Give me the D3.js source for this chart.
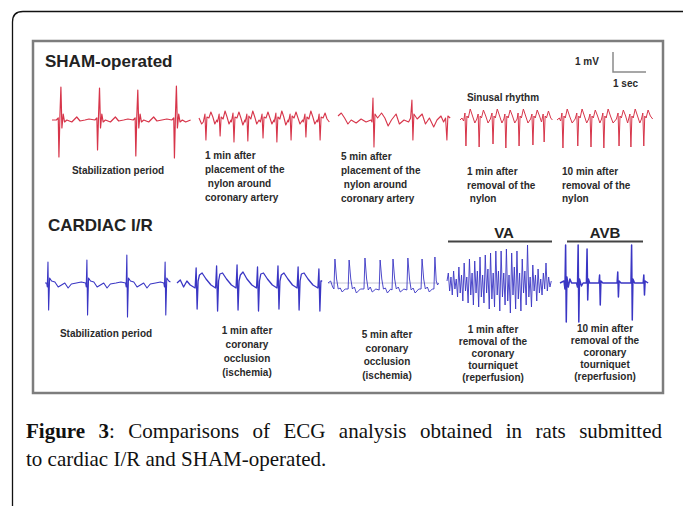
<!DOCTYPE html>
<html>
<head>
<meta charset="utf-8">
<script src="https://cdn.jsdelivr.net/npm/d3@7"></script>
<style>
  body { margin: 0; background: #fff; }
  svg { display: block; }
</style>
</head>
<body>
<svg id="fig"></svg>
<script>
// ECG traces: [time in s, voltage in mV]
var shamStab = [[0,0],[0.13,0],[0.19,0.1],[0.21,-1.85],[0.24,0.2],[0.27,1.65],[0.30,-0.4],[0.34,0.3],[0.38,-0.1],[0.45,0],[0.6,-0.1],[0.75,0.15],[0.85,-0.05],[1.0,0],[1.12,0.05],
  [1.30,0],[1.36,0.1],[1.38,-1.5],[1.41,0.2],[1.44,1.6],[1.47,-0.4],[1.51,0.3],[1.55,-0.1],[1.62,0],[1.77,-0.1],[1.92,0.15],[2.02,-0.05],[2.17,0],[2.3,0.05],
  [2.46,0],[2.52,0.1],[2.54,-1.8],[2.57,0.2],[2.60,1.5],[2.63,-0.4],[2.67,0.3],[2.71,-0.1],[2.78,0],[2.93,-0.1],[3.08,0.15],[3.18,-0.05],[3.33,0],[3.48,0.05],
  [3.63,0],[3.69,0.1],[3.71,-1.9],[3.74,0.2],[3.77,1.7],[3.80,-0.4],[3.84,0.3],[3.88,-0.1],[3.95,0],[4.05,-0.1],[4.2,0]];

var shamPlace1 = [[0,0.1],[0.08,-0.2],
  [0.13,-0.1],[0.18,0.3],[0.21,-1.0],[0.24,0.15],[0.30,0.1],[0.36,0.4],[0.42,0.15],[0.48,-0.2],[0.54,0],
  [0.56,-0.1],[0.61,0.3],[0.64,-0.8],[0.67,0.15],[0.73,0.05],[0.79,0.45],[0.85,0.15],[0.91,-0.2],[0.97,0],
  [0.98,-0.1],[1.03,0.35],[1.06,-1.1],[1.09,0.15],[1.15,0.1],[1.21,0.4],[1.27,0.1],[1.33,-0.25],[1.39,0],
  [1.40,-0.1],[1.45,0.3],[1.48,-1.05],[1.51,0.2],[1.57,0.05],[1.63,0.45],[1.69,0.15],[1.75,-0.2],[1.82,0],
  [1.86,-0.1],[1.91,0.3],[1.94,-0.9],[1.97,0.15],[2.03,0.1],[2.09,0.4],[2.15,0.1],[2.21,-0.2],[2.27,0],
  [2.28,-0.1],[2.33,0.35],[2.36,-1.1],[2.39,0.15],[2.45,0.05],[2.51,0.45],[2.57,0.15],[2.63,-0.25],[2.70,0],
  [2.71,-0.1],[2.76,0.3],[2.79,-1.0],[2.82,0.2],[2.88,0.1],[2.94,0.4],[3.00,0.1],[3.06,-0.2],[3.14,0],
  [3.16,-0.1],[3.21,0.3],[3.24,-0.85],[3.27,0.15],[3.33,0.05],[3.39,0.45],[3.45,0.15],[3.51,-0.2],[3.58,0],
  [3.60,-0.1],[3.64,0.3],[3.67,-1.0],[3.70,0.15],[3.76,0.1],[3.82,0.35],[3.88,0.05],[3.95,-0.1]];

var shamPlace5 = [[0,0.2],[0.1,0.35],[0.2,0.1],[0.3,-0.2],[0.4,0],[0.55,-0.15],[0.7,0.05],[0.85,-0.1],[1.0,0],
  [1.03,-0.1],[1.06,1.1],[1.09,-1.35],[1.12,0.3],[1.2,0.1],[1.32,0.35],[1.42,0.1],[1.52,-0.3],[1.62,0],[1.76,0.3],[1.86,-0.2],[2.0,0],
  [2.14,-0.1],[2.2,0.1],[2.24,1.0],[2.27,-1.0],[2.30,0.3],[2.4,0.05],[2.55,0.3],[2.65,-0.2],[2.77,0.1],[2.9,-0.35],[3.0,0],
  [3.12,0.2],[3.2,-0.1],[3.26,0.1],[3.30,-1.0],[3.33,0.2],[3.4,0.1]];

var shamRemove1 = [[0,0],[0.06,0.1],
  [0.11,-0.05],[0.15,0.35],[0.18,-1.3],[0.21,0.2],[0.25,0.1],[0.31,0.55],[0.38,0.2],[0.45,-0.15],[0.51,0.05],
  [0.55,0.3],[0.58,-1.35],[0.61,0.2],[0.65,0.1],[0.71,0.5],[0.78,0.2],[0.85,-0.15],[0.92,0.05],
  [0.97,0.35],[1.00,-1.2],[1.03,0.2],[1.07,0.1],[1.13,0.55],[1.20,0.2],[1.27,-0.15],[1.33,0.05],
  [1.36,0.3],[1.39,-1.4],[1.42,0.2],[1.46,0.1],[1.52,0.5],[1.59,0.2],[1.66,-0.15],[1.73,0.05],
  [1.76,0.35],[1.79,-1.3],[1.82,0.2],[1.86,0.1],[1.92,0.55],[1.99,0.2],[2.06,-0.15],[2.14,0.05],
  [2.18,0.3],[2.21,-1.25],[2.24,0.2],[2.28,0.1],[2.34,0.5],[2.41,0.2],[2.47,-0.1],
  [2.52,0.3],[2.55,-1.1],[2.58,0.2],[2.62,0.1],[2.68,0.45],[2.75,0.1],[2.8,0]];

var shamRemove10 = [[0,0],[0.07,0.1],
  [0.11,-0.05],[0.15,0.35],[0.18,-1.4],[0.21,0.2],[0.25,0.1],[0.31,0.55],[0.38,0.2],[0.46,-0.15],[0.55,0.05],
  [0.6,0.35],[0.63,-1.3],[0.66,0.2],[0.7,0.1],[0.76,0.55],[0.83,0.2],[0.9,-0.15],[0.96,0.05],
  [1.0,0.3],[1.03,-1.35],[1.06,0.2],[1.1,0.1],[1.16,0.5],[1.23,0.2],[1.3,-0.15],[1.35,0.05],
  [1.39,0.35],[1.42,-1.4],[1.45,0.2],[1.49,0.1],[1.55,0.55],[1.62,0.2],[1.7,-0.15],[1.8,0.05],
  [1.85,0.35],[1.88,-1.3],[1.91,0.2],[1.95,0.1],[2.01,0.5],[2.08,0.2],[2.14,-0.15],[2.17,0.05],
  [2.21,0.3],[2.24,-1.35],[2.27,0.2],[2.31,0.1],[2.37,0.55],[2.44,0.2],[2.51,-0.15],[2.56,0.05],
  [2.6,0.35],[2.63,-1.3],[2.66,0.2],[2.7,0.1],[2.76,0.5],[2.83,0.2],[2.9,0.05]];

var irStab = [[0,0],[0.05,0],[0.07,-0.2],[0.09,1.05],[0.11,-1.35],[0.14,0.25],[0.2,0.1],[0.3,0.05],[0.4,-0.2],[0.5,-0.1],[0.6,0],[0.7,-0.25],[0.8,-0.05],[0.95,0],[1.1,0.05],
  [1.23,0],[1.25,-0.2],[1.27,1.15],[1.29,-1.6],[1.32,0.25],[1.38,0.1],[1.48,0.05],[1.58,-0.2],[1.68,-0.1],[1.78,0],[1.88,-0.25],[1.98,-0.05],[2.15,0],[2.3,0.05],
  [2.44,0],[2.46,-0.2],[2.48,1.4],[2.50,-1.7],[2.53,0.25],[2.59,0.1],[2.69,0.05],[2.79,-0.2],[2.89,-0.1],[2.99,0],[3.09,-0.25],[3.19,-0.05],[3.35,0],[3.5,0.05],
  [3.60,0],[3.62,-0.2],[3.64,1.05],[3.66,-1.6],[3.69,0.25],[3.75,0.1],[3.8,0.05]];

var irOccl1 = [[0,0],[0.1,0.15],[0.2,-0.2],[0.3,0.1],[0.4,-0.1],[0.55,-0.25],
  [0.58,0.75],[0.61,-1.3],[0.64,0.1],[0.68,0.4],[0.76,0.5],[0.88,0.2],[1.03,-0.1],[1.17,-0.25],
  [1.2,0.85],[1.23,-1.4],[1.26,0.1],[1.3,0.45],[1.38,0.5],[1.5,0.2],[1.65,-0.1],[1.79,-0.25],
  [1.82,0.9],[1.85,-1.35],[1.88,0.1],[1.92,0.4],[2.0,0.55],[2.12,0.2],[2.27,-0.1],[2.41,-0.25],
  [2.44,0.8],[2.47,-1.4],[2.5,0.1],[2.54,0.45],[2.62,0.5],[2.74,0.2],[2.89,-0.1],[3.03,-0.25],
  [3.06,0.85],[3.09,-1.3],[3.12,0.1],[3.16,0.4],[3.24,0.5],[3.36,0.2],[3.5,-0.1],[3.64,-0.25],
  [3.67,0.8],[3.7,-1.35],[3.73,0.1],[3.77,0.45],[3.85,0.5],[3.97,0.2],[4.12,-0.1],[4.27,-0.25],
  [4.3,0.7],[4.33,-1.4],[4.36,0.1],[4.4,0.1]];

var irOccl5 = [[0,0],[0.08,0.1],[0.14,-0.2],[0.18,-0.3],
  [0.21,1.2],[0.26,0.2],[0.31,-0.3],[0.37,-0.25],[0.43,-0.45],[0.52,-0.3],[0.61,-0.3],
  [0.64,1.15],[0.69,0.2],[0.74,-0.3],[0.8,-0.2],[0.86,-0.5],[0.98,-0.3],[1.09,-0.3],
  [1.12,1.25],[1.17,0.2],[1.22,-0.35],[1.28,-0.2],[1.34,-0.45],[1.45,-0.3],[1.55,-0.35],
  [1.58,1.15],[1.63,0.2],[1.68,-0.3],[1.74,-0.25],[1.8,-0.5],[1.9,-0.3],[1.94,-0.35],
  [1.97,1.2],[2.02,0.2],[2.07,-0.3],[2.13,-0.2],[2.19,-0.45],[2.3,-0.3],[2.39,-0.35],
  [2.42,1.25],[2.47,0.2],[2.52,-0.35],[2.58,-0.25],[2.64,-0.5],[2.75,-0.3],[2.82,-0.3],
  [2.85,1.2],[2.9,0.2],[2.95,-0.3],[3.01,-0.2],[3.07,-0.45],[3.16,-0.3],[3.21,-0.3],
  [3.24,1.3],[3.28,0.1],[3.32,-0.1],[3.35,0]];

var irReperf1 = [[0,0.1],[0.04,0.5],[0.08,-0.4],[0.12,0.3],[0.16,-0.6],[0.2,0.6],[0.24,-0.3],[0.28,0.2],[0.32,-0.7],[0.36,0.8],
  [0.40,-0.5],[0.44,0.4],[0.48,-0.9],[0.52,1.0],[0.56,-0.4],[0.60,0.3],[0.64,-1.0],[0.68,1.2],[0.72,-0.6],[0.76,0.5],
  [0.80,-1.1],[0.84,1.1],[0.88,-0.5],[0.92,0.6],[0.96,-1.2],[1.00,1.3],[1.04,-0.7],[1.08,0.4],[1.12,-1.0],[1.16,1.4],
  [1.2,-0.5],[1.24,0.7],[1.28,-1.3],[1.32,1.5],[1.36,-0.8],[1.40,0.5],[1.44,-1.2],[1.48,1.6],[1.52,-0.6],[1.56,0.6],
  [1.60,-1.4],[1.64,1.6],[1.68,-0.7],[1.72,0.5],[1.76,-1.1],[1.80,1.7],[1.84,-0.9],[1.88,0.4],[1.92,-1.5],[1.96,1.5],
  [2.0,-0.6],[2.04,0.8],[2.08,-1.3],[2.12,1.6],[2.16,-0.8],[2.2,0.5],[2.24,-1.4],[2.28,1.2],[2.32,-0.5],[2.36,0.6],
  [2.4,-1.1],[2.44,1.9],[2.48,-0.7],[2.52,0.3],[2.56,-1.2],[2.6,0.9],[2.64,-0.4],[2.68,0.4],[2.72,-0.9],[2.76,0.7],
  [2.8,-0.5],[2.84,0.2],[2.88,-0.6],[2.92,0.5],[2.96,-0.3],[3.0,1.0],[3.04,-0.4],[3.08,0.3],[3.12,-0.2],[3.16,0.1]];

var irReperf10 = [[0,0],[0.12,0.1],[0.15,-0.3],[0.17,1.9],[0.19,-1.95],[0.21,0.3],[0.25,-0.2],[0.3,0.2],[0.35,0],[0.5,0],
  [0.53,-0.2],[0.55,1.9],[0.57,-1.95],[0.59,0.2],[0.65,-0.15],[0.7,0],[0.8,0],[0.82,1.7],[0.84,-0.85],[0.86,0.2],[0.9,0],
  [1.18,0],[1.2,0.4],[1.22,-1.1],[1.24,0.1],[1.3,0],[1.73,0],[1.75,0.55],[1.77,-0.7],[1.79,0.1],[1.85,0],
  [2.15,0],[2.17,1.9],[2.19,-1.85],[2.21,0.2],[2.26,0],[2.52,0],[2.54,0.4],[2.56,-0.6],[2.58,0.1],[2.67,0]];

var shamTraces = [shamStab, shamPlace1, shamPlace5, shamRemove1, shamRemove10];
var irTraces = [irStab, irOccl1, irOccl5, irReperf1, irReperf10];

var shamLabels = [["Stabilization period"],
  ["1 min after", "placement of the", " nylon around", "coronary artery"],
  ["5 min after", "placement of the", " nylon around", "coronary artery"],
  ["1 min after", "removal of the", " nylon"],
  ["10 min after", "removal of the", "nylon"]];
var irLabels = [["Stabilization period"],
  ["1 min after", "coronary", "occlusion", "(ischemia)"],
  ["5 min after", "coronary", "occlusion", "(ischemia)"],
  ["1 min after", "removal of the", "coronary", "tourniquet", "(reperfusion)"],
  ["10 min after", "removal of the", "coronary", "tourniquet", "(reperfusion)"]];

var captionBold = "Figure 3";
var captionLine1 = ": Comparisons of ECG analysis obtained in rats submitted";
var captionLine2 = "to cardiac I/R and SHAM-operated.";

var W = 683, H = 506;
var pxPerSec = 33, pxPerMv = 20;

var svg = d3.select("#fig").attr("width", W).attr("height", H);

// page frame (rounded corner top-left)
svg.append("path")
  .attr("d", "M12.5,506 V22 Q12.5,11.5 23,11.5 H683")
  .attr("fill", "none").attr("stroke", "#111").attr("stroke-width", 1.3);

// figure box
svg.append("rect")
  .attr("x", 33).attr("y", 41).attr("width", 630).attr("height", 352)
  .attr("fill", "none").attr("stroke", "#7d7d7d").attr("stroke-width", 2.5);

var sans = "'Liberation Sans', Arial, sans-serif";

svg.append("text").attr("x", 45).attr("y", 67).text("SHAM-operated")
  .attr("font-family", sans).attr("font-weight", "bold").attr("font-size", 17).attr("fill", "#222");
svg.append("text").attr("x", 48).attr("y", 231).text("CARDIAC I/R")
  .attr("font-family", sans).attr("font-weight", "bold").attr("font-size", 17).attr("fill", "#222");

function rowScale(base) {
  return d3.scaleLinear().domain([-1, 1]).range([base + pxPerMv, base - pxPerMv]);
}

function drawRow(traces, x0s, base, color, widths) {
  var y = rowScale(base);
  traces.forEach(function (tr, i) {
    var x = d3.scaleLinear().domain([0, 1]).range([x0s[i], x0s[i] + pxPerSec]);
    var line = d3.line()
      .x(function (d) { return x(d[0]); })
      .y(function (d) { return y(d[1]); });
    svg.append("path")
      .datum(tr)
      .attr("d", line)
      .attr("fill", "none")
      .attr("stroke", color)
      .attr("stroke-width", widths[i])
      .attr("stroke-linejoin", "round");
  });
  return y;
}

var shamX0 = [52, 199, 338, 460, 557];
var irX0 = [45, 177, 328, 447, 560];

// faint reference baseline behind the 5 min occlusion trace
var yIr = rowScale(283);
svg.append("line")
  .attr("x1", irX0[2]).attr("x2", irX0[2] + 3.35 * pxPerSec)
  .attr("y1", yIr(0)).attr("y2", yIr(0))
  .attr("stroke", "#b8b8c8").attr("stroke-width", 0.8);

drawRow(shamTraces, shamX0, 120, "#d7354a", [1.2, 1.1, 1.1, 1.0, 1.0]);
drawRow(irTraces, irX0, 283, "#3a36c4", [1.1, 1.3, 0.9, 0.9, 1.5]);

// scale bar
var ySham = rowScale(120);
var barX = d3.scaleLinear().domain([0, 1]).range([613, 613 + pxPerSec]);
var barLen = ySham(0) - ySham(1);
svg.append("path")
  .attr("d", "M" + barX(0) + "," + (72 - barLen) + " V72 H" + barX(1))
  .attr("fill", "none").attr("stroke", "#8a8a8a").attr("stroke-width", 1.5);

var small = function (sel) {
  return sel.attr("font-family", sans).attr("font-weight", "bold").attr("font-size", 10).attr("fill", "#2a2a2a");
};
small(svg.append("text").attr("x", 575).attr("y", 65).text("1 mV"));
small(svg.append("text").attr("x", 613).attr("y", 87).text("1 sec"));
small(svg.append("text").attr("x", 503).attr("y", 101).attr("text-anchor", "middle").text("Sinusal rhythm"));

// arrhythmia headers
[["VA", 504, 448, 552], ["AVB", 605, 567, 643]].forEach(function (h) {
  svg.append("text").attr("x", h[1]).attr("y", 238).attr("text-anchor", "middle").text(h[0])
    .attr("font-family", sans).attr("font-weight", "bold").attr("font-size", 15).attr("fill", "#222");
  svg.append("line").attr("x1", h[2]).attr("x2", h[3]).attr("y1", 241.5).attr("y2", 241.5)
    .attr("stroke", "#444").attr("stroke-width", 1.8);
});

// condition labels
var shamLabelPos = [[118, 174, "middle", 14], [205, 159, "start", 14], [341, 160, "start", 14], [467, 175, "start", 13.5], [562, 175, "start", 13.5]];
var irLabelPos = [[106, 337, "middle", 14], [247, 334, "middle", 14], [387, 338, "middle", 13.5], [493, 333, "middle", 12], [605, 332, "middle", 12]];

function drawLabels(labels, pos) {
  labels.forEach(function (lines, i) {
    var t = small(svg.append("text")
      .attr("x", pos[i][0]).attr("y", pos[i][1])
      .attr("text-anchor", pos[i][2])
      .attr("xml:space", "preserve"));
    lines.forEach(function (s, j) {
      t.append("tspan").attr("x", pos[i][0]).attr("y", pos[i][1] + j * pos[i][3]).text(s);
    });
  });
}
drawLabels(shamLabels, shamLabelPos);
drawLabels(irLabels, irLabelPos);

// caption, first line justified by widening the word gaps
var serif = "'Liberation Serif', 'DejaVu Serif', serif";
var cap = svg.append("text").attr("x", 26).attr("y", 438)
  .attr("font-family", serif).attr("font-size", 21).attr("fill", "#111");
cap.append("tspan").attr("font-weight", "bold").text(captionBold);
cap.append("tspan").text(captionLine1);
var natural = cap.node().getComputedTextLength();
var gaps = (captionBold + captionLine1).split(" ").length - 1;
var extra = Math.max(0, (662 - 26 - natural) / gaps);
cap.attr("word-spacing", extra);
svg.append("text").attr("x", 26).attr("y", 466)
  .attr("font-family", serif).attr("font-size", 21).attr("fill", "#111")
  .text(captionLine2);
</script>
</body>
</html>
